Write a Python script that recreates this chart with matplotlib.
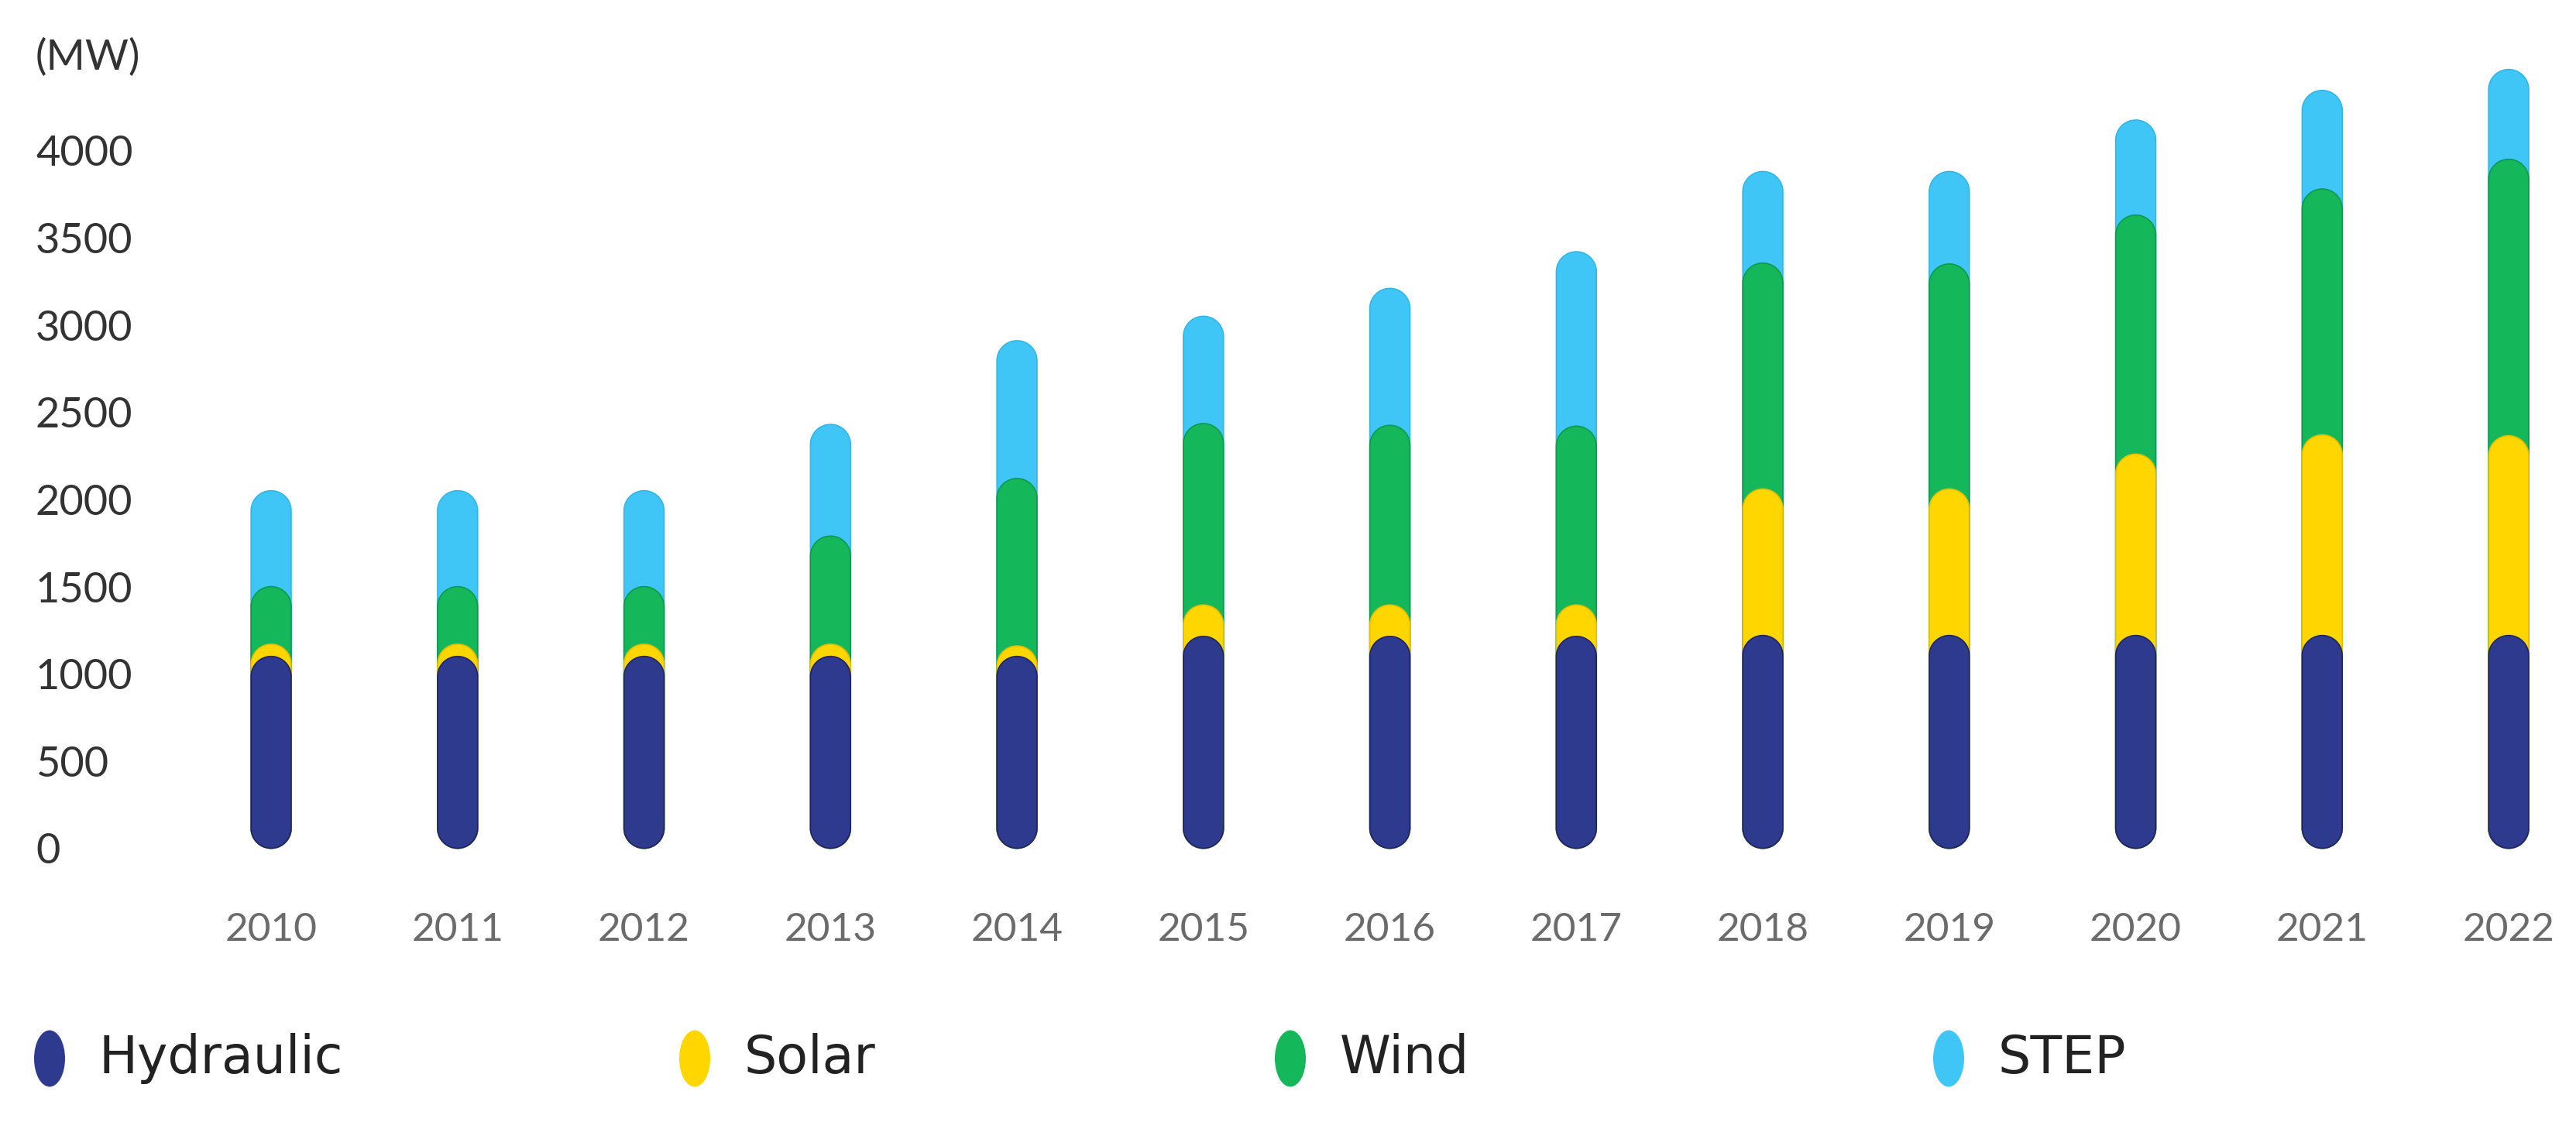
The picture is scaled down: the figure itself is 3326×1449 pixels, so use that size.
import numpy as np
import matplotlib
matplotlib.use("Agg")
import matplotlib.pyplot as plt
from matplotlib.patches import Polygon, Ellipse

# capacites installees (MW)
years = ["2010", "2011", "2012", "2013", "2014", "2015", "2016",
         "2017", "2018", "2019", "2020", "2021", "2022"]
hydraulic = [1100, 1100, 1100, 1100, 1100, 1215, 1215, 1215, 1220, 1220, 1220, 1220, 1220]
solar = [70, 70, 70, 70, 60, 180, 180, 180, 840, 840, 1040, 1150, 1145]
wind = [330, 330, 330, 620, 960, 1040, 1030, 1025, 1295, 1290, 1370, 1410, 1585]
step = [550, 550, 550, 640, 790, 615, 785, 1000, 525, 530, 545, 565, 515]

names = ["Hydraulic", "Solar", "Wind", "STEP"]
colors = ["#2E3A8E", "#FFD600", "#14B85A", "#40C6F6"]
edges = ["#1C2463", "#E6BE00", "#0E9A4A", "#33B6E6"]
yticks = [0, 500, 1000, 1500, 2000, 2500, 3000, 3500, 4000]

W, H = 3326, 1449
fig = plt.figure(figsize=(W / 100, H / 100), dpi=100)
ax = fig.add_axes([46 / W, 1 - 1109 / H, (3306 - 46) / W, (1109 - 39) / H])
ax.set_xlim(-1.263, 12.278)
ax.set_ylim(-60, 4690)
for s in ax.spines.values():
    s.set_visible(False)

x = np.arange(len(years))
ax.set_xticks(x)
ax.set_xticklabels(years, fontsize=37, color="#6b6b6b", family="Lato")
ax.tick_params(axis="x", length=0, pad=50)
ax.set_yticks(yticks)
ax.set_yticklabels([str(v) for v in yticks], fontsize=39, color="#333333", family="Lato")
ax.tick_params(axis="y", length=0, pad=0)
for lab in ax.get_yticklabels():
    lab.set_horizontalalignment("left")

# pixel aspect so the caps come out round
p0 = ax.transData.transform((0, 0))
p1 = ax.transData.transform((1, 1))
aspect = (p1[0] - p0[0]) / (p1[1] - p0[1])


def pill(xc, w, top):
    # capsule from 0 to top, half circles at both ends
    rx = w / 2
    ry = rx * aspect
    t = np.linspace(0, np.pi, 40)
    up = np.column_stack([xc + rx * np.cos(t), top - ry + ry * np.sin(t)])
    down = np.column_stack([xc - rx * np.cos(t), ry - ry * np.sin(t)])
    return np.vstack([up, down])


bw = 0.215
data = np.array([hydraulic, solar, wind, step])
cum = np.cumsum(data, axis=0)
# biggest pill first, so each lower segment's round top sits on the next
for k in range(len(names) - 1, -1, -1):
    for i in x:
        p = Polygon(pill(i, bw, cum[k][i]), closed=True, facecolor=colors[k],
                    edgecolor=edges[k], linewidth=1.2)
        ax.add_patch(p)

fig.text(46 / W, 1 - 74 / H, "(MW)", fontsize=39, color="#333333",
         family="Lato", ha="left", va="center")

# legende
leg_x = [64, 897, 1666, 2516]
leg_y = 1 - 1367 / H
for k in range(len(names)):
    e = Ellipse((leg_x[k] / W, leg_y), 40 / W, 73 / H, transform=fig.transFigure,
                facecolor=colors[k], edgecolor="none")
    fig.add_artist(e)
    fig.text((leg_x[k] + 64) / W, leg_y, names[k], fontsize=48, color="#222222",
             family="DejaVu Sans", ha="left", va="center")

fig.savefig("out.png", dpi=100, facecolor="white")
